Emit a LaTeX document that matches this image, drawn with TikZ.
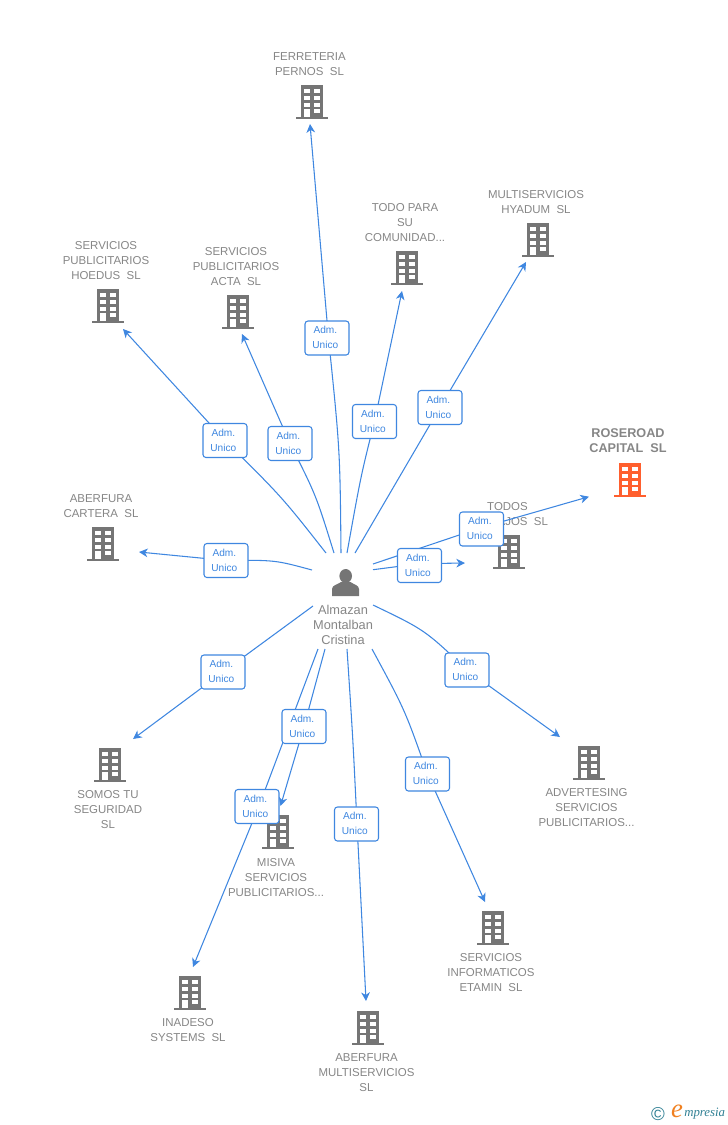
\documentclass[tikz,border=0pt]{standalone}
\usepackage{fontspec}
\setmainfont{Liberation Sans}
\newfontfamily\logofont{Liberation Serif}
\usetikzlibrary{arrows.meta}
\definecolor{edgeblue}{HTML}{3F87E0}
\definecolor{txtgrey}{HTML}{868686}
\definecolor{icongrey}{HTML}{757575}
\definecolor{hot}{HTML}{FF5F2E}
\definecolor{logoteal}{HTML}{2F7F93}
\definecolor{logoorange}{HTML}{F08020}
\newcommand{\admtxt}{\raisebox{-0.5pt}{\begin{tabular}{@{}c@{\hspace{2.5pt}}}Adm.\\Unico\end{tabular}}}
\tikzset{
  x=0.75pt,y=-0.75pt,
  edge/.style={draw=edgeblue,line width=0.8pt,-{Stealth[length=6.5pt,width=6.5pt,inset=2pt]}},
  adm/.style={draw=edgeblue,line width=0.8pt,fill=white,rounded corners=2.2pt,minimum width=33pt,minimum height=25.5pt,inner sep=0pt,text=edgeblue,font=\fontsize{7.6pt}{11.25pt}\selectfont},
  lab/.style={align=center,inner sep=0pt,text=txtgrey,font=\fontsize{8.6pt}{11.25pt}\selectfont},
  hotlab/.style={align=center,inner sep=0pt,text=txtgrey,font=\fontsize{9.5pt}{11.25pt}\selectfont\bfseries},
  perlab/.style={align=center,inner sep=0pt,text=txtgrey,font=\fontsize{9.6pt}{11.25pt}\selectfont},
  pics/bldg/.style={code={
    \fill[#1] (-11,-17) rectangle (11,15);
    \fill[#1] (-16,15) rectangle (16,17);
    \foreach \yy in {-13,-6.5,0.5}{
      \fill[white] (-7.7,\yy) rectangle (-2.3,\yy+4.2);
      \fill[white] (2.3,\yy) rectangle (7.7,\yy+4.2);
    }
    \fill[white] (-7.7,7) rectangle (-2.3,15);
    \fill[white] (2.3,7) rectangle (7.7,11.2);
  }}
}
\begin{document}
\begin{tikzpicture}
\useasboundingbox (0,0) rectangle (728,1125);
% buildings
\pic at (312,102) {bldg=icongrey};
\pic at (407,268) {bldg=icongrey};
\pic at (538,240) {bldg=icongrey};
\pic at (238,312) {bldg=icongrey};
\pic at (108,306) {bldg=icongrey};
\pic at (103,544) {bldg=icongrey};
\pic at (630,480) {bldg=hot};
\pic at (509,552) {bldg=icongrey};
\pic at (589,763) {bldg=icongrey};
\pic at (110,765) {bldg=icongrey};
\pic at (278,832) {bldg=icongrey};
\pic at (190,993) {bldg=icongrey};
\pic at (368,1028) {bldg=icongrey};
\pic at (493,928) {bldg=icongrey};
% company names
\node[lab] (t1) at (309.5,64) {FERRETERIA\\PERNOS\ \ SL};
\node[lab] (t2) at (405,222.5) {TODO PARA\\SU\\COMUNIDAD...};
\node[lab] (t3) at (536,202) {MULTISERVICIOS\\HYADUM\ \ SL};
\node[lab] (t4) at (236,266.5) {SERVICIOS\\PUBLICITARIOS\\ACTA\ \ SL};
\node[lab] (t5) at (106,260.5) {SERVICIOS\\PUBLICITARIOS\\HOEDUS\ \ SL};
\node[lab] (t6) at (101,506) {ABERFURA\\CARTERA\ \ SL};
\node[hotlab] (t7) at (628,441) {ROSEROAD\\CAPITAL\ \ SL};
\node[lab] (t8) at (507.5,514) {TODOS\\TRABAJOS\ \ SL};
\node[lab] (t9) at (586.5,807.5) {ADVERTESING\\SERVICIOS\\PUBLICITARIOS...};
\node[lab] (t10) at (108,809.5) {SOMOS TU\\SEGURIDAD\\SL};
\node[lab] (t11) at (276,877.5) {MISIVA\\SERVICIOS\\PUBLICITARIOS...};
\node[lab] (t12) at (188,1030) {INADESO\\SYSTEMS\ \ SL};
\node[lab] (t13) at (366.5,1072.5) {ABERFURA\\MULTISERVICIOS\\SL};
\node[lab] (t14) at (491,972.5) {SERVICIOS\\INFORMATICOS\\ETAMIN\ \ SL};
% person
\fill[icongrey] (345.7,576) ellipse (6.3 and 7);
\fill[icongrey] (332,596) -- (332,589) .. controls (332,585) and (338,584.5) .. (341,582) -- (350.5,582) .. controls (353.5,584.5) and (359,585) .. (359,589) -- (359,596) -- cycle;
\node[perlab] (p) at (343,625) {Almazan\\Montalban\\Cristina};
% free ends
\coordinate (s1) at (341,553);  \coordinate (e1) at (310,124);
\coordinate (s2) at (347,553);  \coordinate (e2) at (402,291);
\coordinate (s3) at (355,553);  \coordinate (e3) at (526,262);
\coordinate (s4) at (334,553);  \coordinate (e4) at (242,334);
\coordinate (s5) at (326,553);  \coordinate (e5) at (123,329);
\coordinate (s6) at (312,570);  \coordinate (e6) at (139,552);
\coordinate (s7) at (373,569.7);\coordinate (e7) at (465,563);
\coordinate (s8) at (373,564);  \coordinate (e8) at (589,496.7);
\coordinate (s9) at (373,605);  \coordinate (e9) at (560,737);
\coordinate (s10) at (313,606); \coordinate (e10) at (133,739);
\coordinate (s11) at (325,649); \coordinate (e11) at (280.5,806);
\coordinate (s12) at (318,649); \coordinate (e12) at (193,967);
\coordinate (s13) at (347,649); \coordinate (e13) at (366,1001);
\coordinate (s14) at (372,649); \coordinate (e14) at (485,902);
% connector way points, behind the labels
\coordinate (c1) at (328.5,338);
\coordinate (c2) at (374.5,421.5);
\coordinate (c3) at (440,407.5);
\coordinate (c4) at (290,443.5);
\coordinate (c5) at (225,440.5);
\coordinate (c6) at (226,560.5);
\coordinate (c7) at (419.5,563.7);
\coordinate (c8) at (481.5,527.5);
\coordinate (c9) at (467,670);
\coordinate (c10) at (223,672);
\coordinate (c11) at (304,726.5);
\coordinate (c12) at (259,806);
\coordinate (c13) at (357,824);
\coordinate (c14) at (427.5,774);
% connectors
\draw[edge] (s1) .. controls (340,450) .. (c1) -- (e1);
\draw[edge] (s2) .. controls (361,475) .. (c2) -- (e2);
\draw[edge] (s3) -- (c3) -- (e3);
\draw[edge] (s4) .. controls (316,495) .. (c4) -- (e4);
\draw[edge] (s5) .. controls (282,497) .. (c5) -- (e5);
\draw[edge] (s6) .. controls (275,560) .. (c6) -- (e6);
\draw[edge] (s7) -- (c7) -- (e7);
\draw[edge] (s8) -- (c8) -- (e8);
\draw[edge] (s9) .. controls (425,630) .. (c9) -- (e9);
\draw[edge] (s10) -- (c10) -- (e10);
\draw[edge] (s11) -- (c11) -- (e11);
\draw[edge] (s12) -- (c12) -- (e12);
\draw[edge] (s13) .. controls (353,740) .. (c13) -- (e13);
\draw[edge] (s14) .. controls (405,710) .. (c14) -- (e14);
% labels
\node[adm] (l1) at (327,338) {\admtxt};
\node[adm] (l2) at (374.5,421.5) {\admtxt};
\node[adm] (l3) at (440,407.5) {\admtxt};
\node[adm] (l4) at (290,443.5) {\admtxt};
\node[adm] (l5) at (225,440.5) {\admtxt};
\node[adm] (l6) at (226,560.5) {\admtxt};
\node[adm] (l7) at (419.5,565.5) {\admtxt};
\node[adm] (l8) at (481.5,529) {\admtxt};
\node[adm] (l9) at (467,670) {\admtxt};
\node[adm] (l10) at (223,672) {\admtxt};
\node[adm] (l11) at (304,726.5) {\admtxt};
\node[adm] (l12) at (257,806.5) {\admtxt};
\node[adm] (l13) at (356.5,824) {\admtxt};
\node[adm] (l14) at (427.5,774) {\admtxt};
% logo
\node[inner sep=0pt,text=logoteal,font=\fontsize{14pt}{14pt}\selectfont] (lg1) at (658,1114) {©};
\node[inner sep=0pt,text=logoorange,font=\logofont\itshape\fontsize{20pt}{20pt}\selectfont] (lg2) at (677,1111.5) {e};
\node[inner sep=0pt,anchor=west,text=logoteal,font=\logofont\itshape\fontsize{9.6pt}{10pt}\selectfont] (lg3) at (684,1114) {mpresia};
\end{tikzpicture}
\end{document}
